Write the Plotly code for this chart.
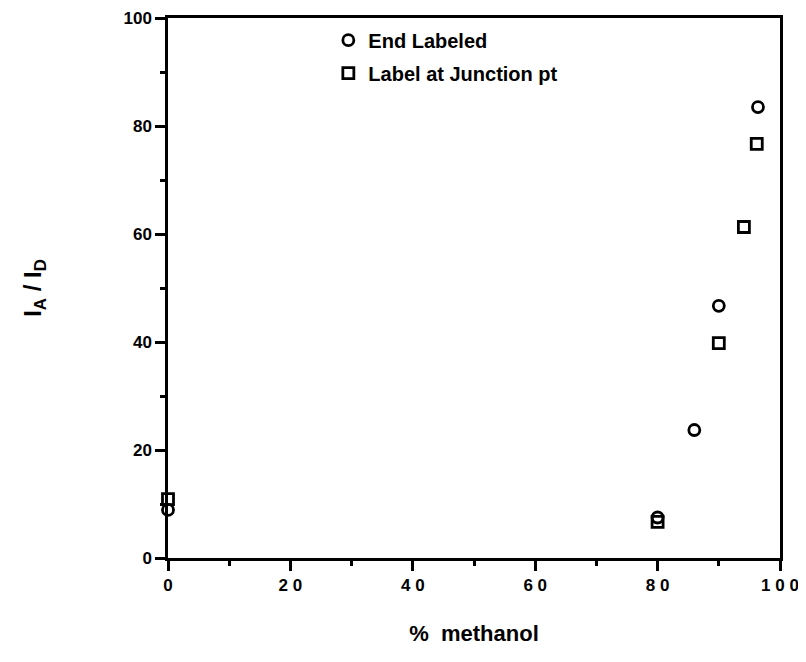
import plotly.graph_objects as go

# Data
end_x = [0, 80, 86, 90, 96.4]
end_y = [8.9, 7.5, 23.7, 46.7, 83.5]
junc_x = [0, 80, 90, 94.1, 96.2]
junc_y = [10.9, 6.7, 39.8, 61.3, 76.7]

x_tickvals = [0, 20, 40, 60, 80, 100]
x_ticktext = ["0", "2 0", "4 0", "6 0", "8 0", "1 0 0"]
y_tickvals = [0, 20, 40, 60, 80, 100]
y_ticktext = ["0", "20", "40", "60", "80", "100"]

FONT = "Liberation Sans, Arial, Helvetica, sans-serif"

fig = go.Figure()
fig.add_trace(go.Scatter(
    x=end_x, y=end_y, mode="markers", name="End Labeled",
    legendgroup="a", cliponaxis=False,
    marker=dict(symbol="circle-open", size=11, color="black",
                line=dict(color="black", width=2.8)),
))
fig.add_trace(go.Scatter(
    x=junc_x, y=junc_y, mode="markers", name="Label at Junction pt",
    legendgroup="b", cliponaxis=False,
    marker=dict(symbol="square-open", size=11, color="black",
                line=dict(color="black", width=2.8)),
))

axis_common = dict(
    showline=True, linecolor="black", linewidth=2.5, mirror=True,
    ticks="outside", ticklen=10, tickwidth=2.5, tickcolor="black",
    showgrid=False, zeroline=False, automargin=False,
    tickfont=dict(family=FONT, size=17, color="black", weight="bold"),
)

fig.update_xaxes(
    range=[0, 100], tickmode="array", tickvals=x_tickvals, ticktext=x_ticktext,
    minor=dict(dtick=10, ticks="outside", ticklen=5, tickwidth=2.5, tickcolor="black"),
    title=dict(text="%  methanol", font=dict(family=FONT, size=22, color="black", weight="bold"),
               standoff=32),
    **axis_common,
)
fig.update_yaxes(
    range=[0, 100], tickmode="array", tickvals=y_tickvals, ticktext=y_ticktext,
    minor=dict(dtick=10, ticks="outside", ticklen=5, tickwidth=2.5, tickcolor="black"),
    title=dict(text="I<sub>A</sub> / I<sub>D</sub>", font=dict(family=FONT, size=24, color="black", weight="bold"),
               standoff=76),
    **axis_common,
)

fig.update_layout(
    width=806, height=662,
    margin=dict(l=160, r=34, t=10, b=112),
    paper_bgcolor="white", plot_bgcolor="white",
    showlegend=True,
    legend=dict(x=0.262, y=0.995, xanchor="left", yanchor="top",
                bgcolor="rgba(0,0,0,0)", traceorder="grouped", tracegroupgap=4,
                font=dict(family=FONT, size=20, color="black", weight="bold")),
)

fig.write_html("out.html")
